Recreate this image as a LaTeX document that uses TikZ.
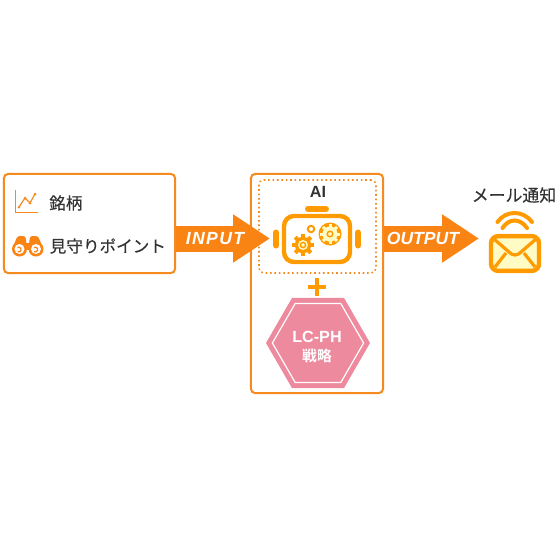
\documentclass[tikz,border=0pt]{standalone}
\usepackage{fontspec}
\setmainfont{Liberation Sans}
\newfontfamily\cjk[FakeBold=.35]{Noto Sans CJK JP}
\newfontfamily\cjkbold{Noto Sans CJK JP Bold}
\newfontfamily\flowfont[LetterSpace=8]{Liberation Sans}
\usetikzlibrary{positioning,arrows.meta,calc,shapes.geometric}
\definecolor{boxline}{HTML}{F58A1F}
\definecolor{flow}{HTML}{F98414}
\definecolor{icon}{HTML}{FF9A00}
\definecolor{pinkfill}{HTML}{EE8A9E}
\definecolor{cream}{HTML}{FFFBC4}
\definecolor{ink}{HTML}{333333}
\tikzset{
  panelbox/.style={draw=boxline,fill=white,line width=.05cm,rounded corners=.1cm,inner sep=0},
  flowarrow/.style={draw=flow,line width=.65cm,-{Triangle[length=.92cm,width=1.14cm]}},
  flowtext/.style={text=white,font=\fontsize{12.5}{14}\selectfont\bfseries\itshape,inner sep=0},
  jptext/.style={text=ink,inner sep=0,font=\cjk\fontsize{11.8}{14}\selectfont},
  iconline/.style={draw=icon,line width=.1cm,line cap=round},
  hexnode/.style={regular polygon,regular polygon sides=6,inner sep=0,outer sep=0},
}
\begin{document}
\begin{tikzpicture}[x=.025cm,y=-.025cm]
\useasboundingbox (0,0) rectangle (560,560);
\fill[white] (0,0) rectangle (560,560);
% left box
\node[panelbox,minimum width=4.275cm,minimum height=2.475cm] (inputbox) at (89.5,223.5){};
\draw[boxline,line width=.025cm] (15,190)--(15,212)--(38,212);
\draw[boxline,line width=.03cm] (19,207)--(25,198)--(30,203)--(35,194);
\foreach \p in {(19,207),(25,198),(30,203),(35,194)}
  \fill[boxline] \p circle (1.5);
\node[jptext,anchor=west] (meigara) at (49,203){銘柄};
\fill[flow,rounded corners=.06cm] (12.5,248)--(17.5,236)--(25.5,236)--(27,248)--cycle;
\fill[flow,rounded corners=.06cm] (28.5,248)--(30,236)--(38,236)--(43,248)--cycle;
\fill[flow] (24,243) rectangle (32,250);
\foreach \x in {19.5,36}{
  \fill[flow] (\x,249) circle (7.5);
  \fill[white] (\x,249) circle (5);
  \draw[flow,line width=.03cm] (\x-2,247.5) arc (-120:120:2.4);
}
\node[jptext,anchor=west] (mimamori) at (49.5,246){見守りポイント};
% middle box
\node[panelbox,minimum width=3.3cm,minimum height=5.475cm] (aibox) at (317,283.5){};
\node[draw=boxline,line width=.04cm,dotted,rounded corners=.12cm,minimum width=2.925cm,minimum height=2.325cm,inner sep=0] (aiframe) at (317.5,226.5){};
\node[text=ink,inner sep=0,font=\fontsize{11.5}{14}\selectfont\bfseries] (ailabel) at (318,192){AI};
% robot
\draw[icon,line width=.15cm,line cap=round] (308,209)--(326,209);
\node[draw=icon,fill=white,line width=.11cm,rounded corners=.25cm,minimum width=1.65cm,minimum height=1.15cm,inner sep=0] (robot) at (317,239){};
\draw[icon,line width=.15cm,line cap=round] (276,232.5)--(276,245.5);
\draw[icon,line width=.15cm,line cap=round] (358,232.5)--(358,245.5);
\fill[icon] (303,245) circle (8.2);
\foreach \a in {0,45,...,315}
  \draw[icon,line width=.1cm] (303,245)--++(\a:11);
\fill[cream] (303,245) circle (5);
\draw[icon,line width=.035cm] (303,245) circle (2.6);
\draw[icon,line width=.05cm] (311,229) circle (3.2);
\fill[icon] (330,234) circle (11.5);
\fill[cream] (330,234) circle (7.6);
\foreach \a in {0,45,...,315}
  \draw[cream,line width=.075cm] (330,234)--++(\a:10);
\draw[icon,line width=.035cm] (330,234) circle (2.8);
% plus
\draw[icon,line width=.11cm] (308,287)--(326,287);
\draw[icon,line width=.11cm] (317,278)--(317,296);
% hexagon
\node[hexnode,fill=pinkfill,minimum size=2.6cm] (hexouter) at (318,343){};
\node[hexnode,draw=white,line width=.03cm,minimum size=2.28cm] (hexinner) at (318,343){};
\node[text=white,inner sep=0,font=\fontsize{11.5}{14}\selectfont\bfseries] (lcph) at (317,337){LC-PH};
\node[text=white,inner sep=0,font=\cjkbold\fontsize{10.5}{12}\selectfont] (senryaku) at (317,356){戦略};
% arrows
\coordinate (inputtip) at (270,238.5);
\coordinate (outputtip) at (479,238.5);
\draw[flowarrow] (inputbox.east|-inputtip)--(inputtip);
\draw[flowarrow] (aibox.east|-outputtip)--(outputtip);
\node[flowtext,font=\flowfont\fontsize{12.5}{14}\selectfont\bfseries\itshape] (inputlabel) at (215,238.5){INPUT};
\node[flowtext] (outputlabel) at (423,238.5){OUTPUT};
% mail
\node[jptext,font=\cjk\fontsize{12}{14}\selectfont] (mailtext) at (514,195){メール通知};
\draw[iconline] (497.5,222) .. controls (506,210) and (523,210) .. (532,222);
\draw[iconline] (502.5,228) .. controls (509,218) and (520,218) .. (527,228);
\node[draw=icon,fill=cream,line width=.11cm,rounded corners=.18cm,minimum width=1.2cm,minimum height=.87cm,inner sep=0] (mailbox) at (515,253.5){};
\draw[icon,line width=.08cm] (494,239) -- (509,252) .. controls (513,256) and (517,256) .. (521,252) -- (536,239);
\draw[icon,line width=.08cm] (495,267)--(506,253);
\draw[icon,line width=.08cm] (535,267)--(524,253);
\end{tikzpicture}
\end{document}
